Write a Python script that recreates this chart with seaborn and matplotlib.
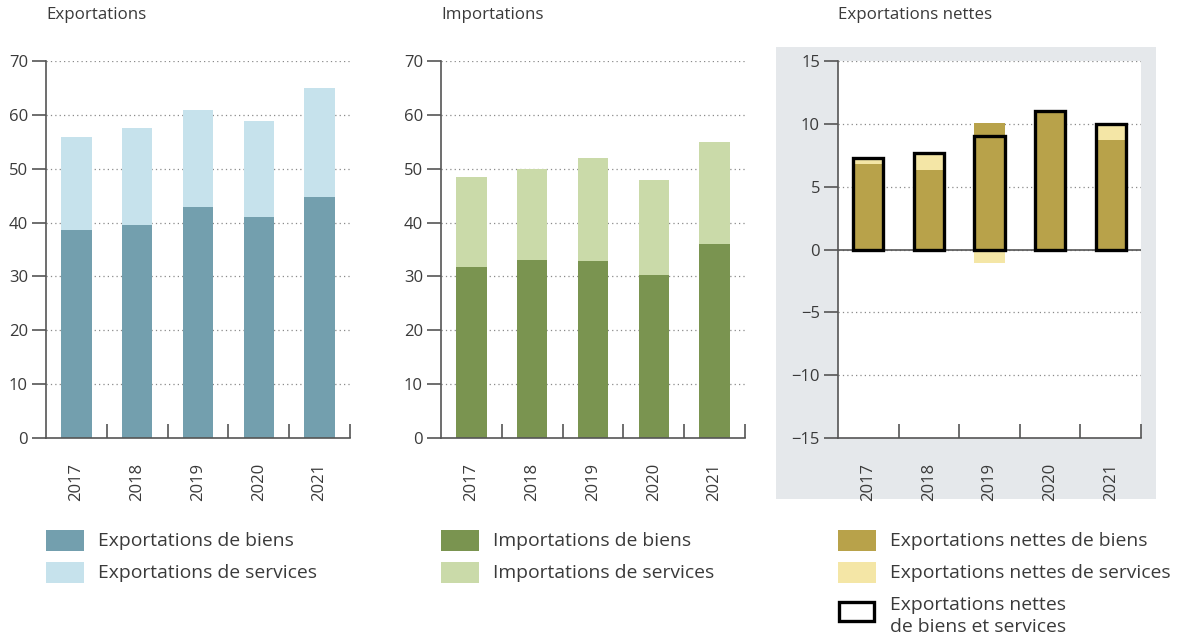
import numpy as np
import pandas as pd
import matplotlib
matplotlib.use("Agg")
import matplotlib.pyplot as plt
from matplotlib.patches import Rectangle
import seaborn as sns

# Data, in billions
years = ['2017', '2018', '2019', '2020', '2021']
exp_goods = [38.6, 39.5, 42.9, 41.1, 44.7]
exp_services = [17.2, 18.1, 18.0, 17.8, 20.3]
imp_goods = [31.8, 33.1, 32.9, 30.2, 36.0]
imp_services = [16.7, 16.9, 19.1, 17.7, 19.0]
net_goods = [6.8, 6.3, 10.1, 11.0, 8.7]
net_services = [0.5, 1.4, -1.1, 0.0, 1.3]
net_total = [7.3, 7.7, 9.0, 11.0, 10.0]

titles = ['Exportations', 'Importations', 'Exportations nettes']
legend_labels = [
    ['Exportations de biens', 'Exportations de services'],
    ['Importations de biens', 'Importations de services'],
    ['Exportations nettes de biens', 'Exportations nettes de services',
     'Exportations nettes\nde biens et services'],
]

# Colours
C_EXP = ['#739fae', '#c6e2ec']
C_IMP = ['#7a9450', '#cadaa9']
C_NET = ['#b8a24a', '#f4e6a6']
AXIS_C = '#555555'
TEXT_C = '#3a3a3a'

sns.set_theme(style='white')
plt.rcParams['font.family'] = ['Open Sans', 'DejaVu Sans']
plt.rcParams['axes.unicode_minus'] = True

W, H = 1177, 643
fig = plt.figure(figsize=(W / 100, H / 100), dpi=100)


def fx(px):
    return px / W


def fy(py):
    return 1 - py / H


# grey background behind the net exports panel
fig.add_artist(Rectangle((fx(776), fy(499)), fx(1156) - fx(776), fy(47) - fy(499),
                         transform=fig.transFigure, facecolor='#e5e8eb',
                         edgecolor='none', zorder=0))

ax_top, ax_bot = 61, 438
lefts = [46, 441, 838]
rights = [350, 745, 1141]
axes = []
for l, r in zip(lefts, rights):
    ax = fig.add_axes([fx(l), fy(ax_bot), fx(r) - fx(l), fy(ax_top) - fy(ax_bot)])
    axes.append(ax)


def style_axis(ax, ymin, ymax, step):
    ax.set_xlim(-0.5, 4.5)
    ax.set_ylim(ymin, ymax)
    ax.set_yticks(np.arange(ymin, ymax + 0.1, step))
    ax.set_xticks(range(5))
    ax.set_xticklabels(years)
    ax.set_xticks(np.arange(0.5, 5, 1), minor=True)
    for side in ['top', 'right']:
        ax.spines[side].set_visible(False)
    for side in ['left', 'bottom']:
        ax.spines[side].set_color(AXIS_C)
        ax.spines[side].set_linewidth(1.2)
    ax.tick_params(axis='y', direction='out', length=10, width=1.2, color=AXIS_C,
                   pad=3, labelsize=12, labelcolor=TEXT_C, left=True)
    ax.tick_params(axis='x', which='major', length=0, pad=18, labelsize=12,
                   labelcolor=TEXT_C, labelrotation=90, bottom=True)
    ax.tick_params(axis='x', which='minor', direction='in', length=10, width=1.2,
                   color=AXIS_C, bottom=True)
    for y in np.arange(ymin + step, ymax + 0.1, step):
        ax.axhline(y, color='#8a8a8a', linestyle=(0, (1, 2.5)), linewidth=0.9, zorder=0)
    ax.set_xlabel('')
    ax.set_ylabel('')
    ax.set_facecolor('white')


# Panels 1 and 2: stacked goods + services
for ax, goods, services, cols in [(axes[0], exp_goods, exp_services, C_EXP),
                                  (axes[1], imp_goods, imp_services, C_IMP)]:
    sns.barplot(x=years, y=goods, color=cols[0], saturation=1, width=0.5,
                errorbar=None, linewidth=0, ax=ax, zorder=2)
    sns.barplot(x=years, y=services, bottom=goods, color=cols[1], saturation=1,
                width=0.5, errorbar=None, linewidth=0, ax=ax, zorder=2)
    style_axis(ax, 0, 70, 10)

# Panel 3: net exports
ax = axes[2]
svc_bottom = [g if s > 0 else 0 for g, s in zip(net_goods, net_services)]
sns.barplot(x=years, y=net_goods, color=C_NET[0], saturation=1, width=0.5,
            errorbar=None, linewidth=0, ax=ax, zorder=2)
sns.barplot(x=years, y=net_services, bottom=svc_bottom, color=C_NET[1], saturation=1,
            width=0.5, errorbar=None, linewidth=0, ax=ax, zorder=2)
sns.barplot(x=years, y=net_total, color='black', fill=False, width=0.5,
            errorbar=None, linewidth=2.4, ax=ax, zorder=3)
style_axis(ax, -15, 15, 5)
ax.axhline(0, color=AXIS_C, linewidth=1.2, zorder=1)

# Titles
for l, t in zip(lefts, titles):
    fig.text(fx(l), fy(7), t, ha='left', va='top', fontsize=12.2, color=TEXT_C)

# Legends (drawn manually to match the reference layout)
all_cols = [C_EXP, C_IMP, C_NET]
for l, labels, cols in zip(lefts, legend_labels, all_cols):
    for i, lab in enumerate(labels):
        top = 530 + 32 * i
        if i < 2:
            patch = Rectangle((fx(l), fy(top + 21)), fx(38), 21 / H,
                              transform=fig.transFigure, facecolor=cols[i],
                              edgecolor='none')
        else:
            top = 602
            patch = Rectangle((fx(l + 1), fy(top + 19)), fx(35), 19 / H,
                              transform=fig.transFigure, facecolor='white',
                              edgecolor='black', linewidth=2.4)
        fig.add_artist(patch)
        if i < 2:
            fig.text(fx(l + 52), fy(top + 11), lab, ha='left', va='center',
                     fontsize=13.9, color=TEXT_C)
        else:
            fig.text(fx(l + 52), fy(top - 6), lab, ha='left', va='top',
                     fontsize=13.9, color=TEXT_C, linespacing=1.3)

fig.savefig('out.png', dpi=100)
